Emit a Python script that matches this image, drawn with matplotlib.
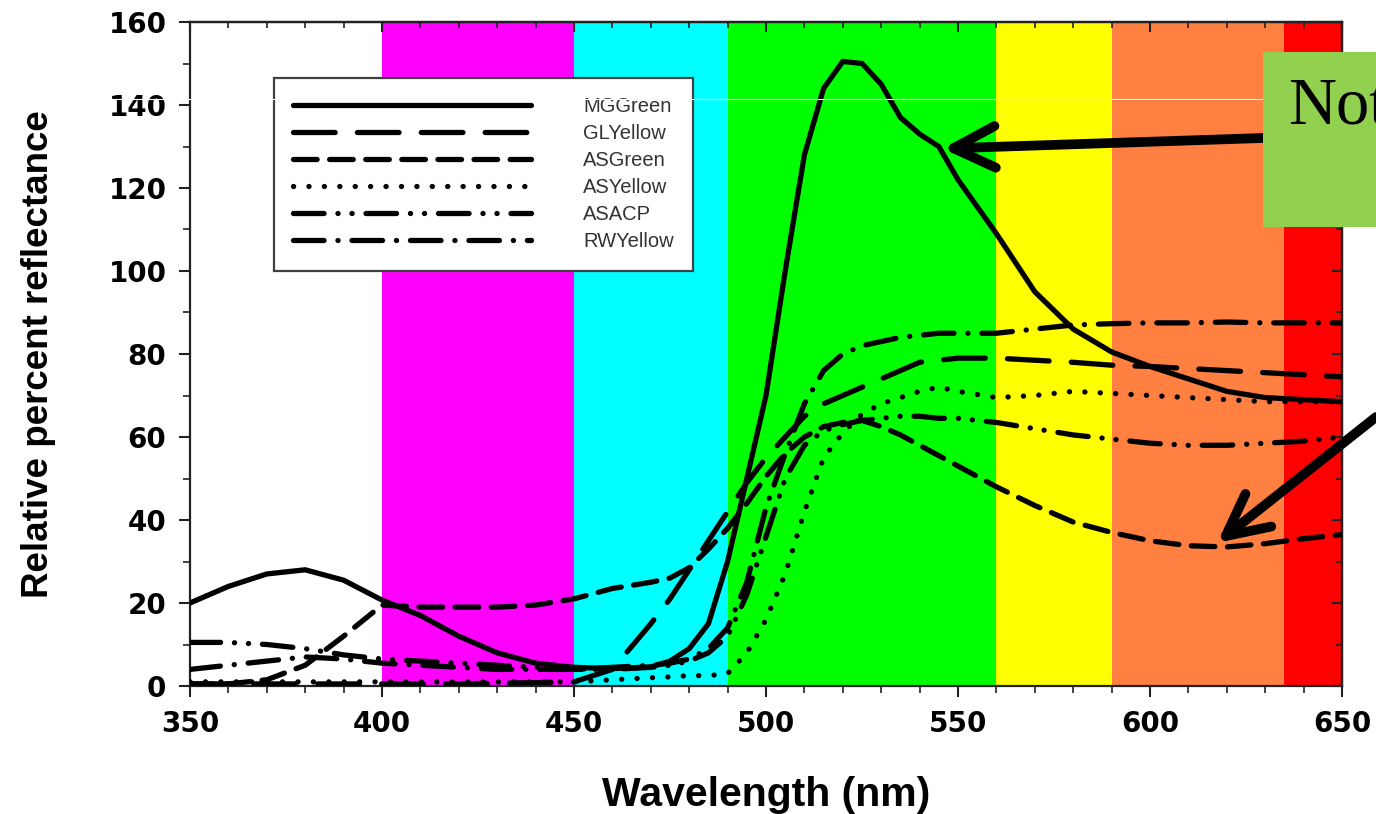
import matplotlib
matplotlib.use("Agg")
import matplotlib.pyplot as plt
from matplotlib.lines import Line2D
from matplotlib.patches import Rectangle
from matplotlib.ticker import MultipleLocator

plt.rcParams['lines.scale_dashes'] = False

# ---------------- data ----------------
wavelength = [350, 360, 370, 380, 390, 400, 410, 420, 430, 440, 450, 460, 470, 475,
              480, 485, 490, 495, 500, 505, 510, 515, 520, 525, 530, 535, 540, 545,
              550, 560, 570, 580, 590, 600, 610, 620, 630, 640, 650]

mg_green = [20, 24, 27, 28, 25.5, 20.7, 17, 12, 8, 5.5, 4.5, 4.2, 4.6, 6,
            9, 15, 30, 50, 70, 100, 128, 144, 150.5, 150, 145, 137, 133, 130,
            122, 109, 95, 86, 80.5, 77, 74, 71, 69.5, 69, 68.5]

gl_yellow = [0.5, 0.5, 0.5, 0.5, 0.5, 0.5, 0.5, 0.5, 0.7, 0.8, 1, 4, 15, 21,
             28, 35, 42, 49, 55, 60, 65, 68, 70, 72, 74, 76, 78, 78.5,
             79, 79, 78.5, 78, 77.3, 77, 76.5, 76, 75.5, 75, 74.5]

as_green = [0.5, 0.5, 1.5, 5, 12, 19.5, 19, 19, 19, 19.5, 21, 23.5, 25, 26,
            28.5, 33, 38, 44, 50.5, 56, 60, 62.5, 63.5, 64, 62.5, 60.5, 58, 55.5,
            53, 48, 43.5, 39.5, 37, 35, 33.8, 33.5, 34.3, 35.5, 36.5]

as_yellow = [1, 1, 1, 1, 1, 1, 1, 1, 1, 1, 1, 1.5, 2, 2.2,
             2.5, 2.5, 3, 8, 16, 27, 42, 55, 61, 65.5, 68, 69.5, 71, 72,
             71, 69.5, 70, 71, 70.5, 70, 69.5, 69, 68.5, 68.5, 68.5]

as_acp = [10.5, 10.5, 10, 9, 7.5, 6.5, 6, 5.5, 5, 4.5, 4, 4, 4.5, 5,
          6, 8, 12, 22, 36, 50, 58, 61.5, 63, 64, 64.5, 65, 65, 64.5,
          64.5, 63.5, 62, 60.5, 59.5, 58.5, 58, 58, 58.5, 59, 60]

rw_yellow = [4, 5, 6, 7, 6.5, 5.5, 5, 4.5, 4, 4, 4, 4.5, 5, 5.5,
             6.5, 9, 14, 25, 43, 56, 68, 76, 80, 82, 83, 84, 84.5, 85,
             85, 85, 86, 87, 87.3, 87.5, 87.5, 87.7, 87.5, 87.5, 87.5]

series_names = ["MGGreen", "GLYellow", "ASGreen", "ASYellow", "ASACP", "RWYellow"]
series_values = [mg_green, gl_yellow, as_green, as_yellow, as_acp, rw_yellow]
series_dashes = ['-', (0, (30, 16)), (0, (17, 9)), (0, (0.1, 11)),
                 (0, (22, 10, 0.1, 10, 0.1, 10)), (0, (22, 10, 0.1, 10))]

band_starts = [400, 450, 490, 560, 590, 635]
band_ends = [450, 490, 560, 590, 635, 650]
band_colors = ['#FF00FF', '#00FFFF', '#00FF00', '#FFFF00', '#FF8040', '#FF0000']

x_ticks = [350, 400, 450, 500, 550, 600, 650]
y_ticks = [0, 20, 40, 60, 80, 100, 120, 140, 160]

# ---------------- figure ----------------
fig = plt.figure(figsize=(13.76, 8.14), dpi=100)
ax = fig.add_axes([190/1376, 1-686/814, (1342-190)/1376, (686-22)/814])

for s, e, c in zip(band_starts, band_ends, band_colors):
    ax.axvspan(s, e, color=c, zorder=0, lw=0)

handles = []
for name, vals, ls in zip(series_names, series_values, series_dashes):
    ln, = ax.plot(wavelength, vals, color='black', lw=3.8, linestyle=ls,
                  dash_capstyle='round', solid_capstyle='round', solid_joinstyle='round',
                  label=name, zorder=3)
    handles.append(ln)

ax.set_xlim(350, 650)
ax.set_ylim(0, 160)
ax.set_xticks(x_ticks)
ax.set_yticks(y_ticks)
ax.xaxis.set_minor_locator(MultipleLocator(10))
ax.yaxis.set_minor_locator(MultipleLocator(10))

tick_font = dict(family='DejaVu Sans', weight='bold', size=20)
ax.set_xticklabels([str(v) for v in x_ticks], fontdict=tick_font)
ax.set_yticklabels([str(v) for v in y_ticks], fontdict=tick_font)
ax.tick_params(which='major', direction='out', length=8, width=1.5, pad=9, color='#222222')
ax.tick_params(which='minor', direction='out', length=5, width=1.2, color='#222222')

for sp in ax.spines.values():
    sp.set_linewidth(1.6)
    sp.set_color('#222222')

# inward ticks on the top and right
secx = ax.secondary_xaxis('top')
secx.set_xticks(x_ticks)
secx.xaxis.set_minor_locator(MultipleLocator(10))
secx.tick_params(which='major', direction='in', length=7, width=1.5, labeltop=False, color='#222222')
secx.tick_params(which='minor', direction='in', length=4, width=1.2, color='#222222')
secx.spines['top'].set_linewidth(1.6)
secy = ax.secondary_yaxis('right')
secy.set_yticks(y_ticks)
secy.yaxis.set_minor_locator(MultipleLocator(10))
secy.tick_params(which='major', direction='in', length=7, width=1.5, labelright=False, color='#222222')
secy.tick_params(which='minor', direction='in', length=4, width=1.2, color='#222222')
secy.spines['right'].set_linewidth(1.6)

ax.set_xlabel("Wavelength (nm)", fontsize=29.5, fontweight='bold', family='Liberation Sans', labelpad=28)
ax.set_ylabel("Relative percent reflectance", fontsize=26.5, fontweight='bold', family='Liberation Sans', labelpad=38)

leg = ax.legend(handles=handles, loc='upper left',
                bbox_to_anchor=((274-190)/1152, (686-78)/664),
                borderaxespad=0, frameon=True, fancybox=False,
                prop=dict(family='Liberation Sans', size=14.5),
                handlelength=11.8, handletextpad=2.6, labelspacing=0.4,
                borderpad=0.95)
leg.get_frame().set_edgecolor('#404040')
leg.get_frame().set_linewidth(1.6)
leg.get_frame().set_alpha(1)
for t in leg.get_texts():
    t.set_color('#333333')

# arrows pointing to features
ax.annotate('', xy=(546, 129.5), xycoords='data',
            xytext=(1263/1376, 1-138/814), textcoords='figure fraction',
            arrowprops=dict(arrowstyle='->,head_length=1.0,head_width=0.5', lw=7,
                            color='black', shrinkA=0, shrinkB=0, mutation_scale=30,
                            capstyle='round', joinstyle='round'),
            annotation_clip=False, zorder=6)
ax.annotate('', xy=(617.5, 34.5), xycoords='data',
            xytext=(1.0, 1-417/814), textcoords='figure fraction',
            arrowprops=dict(arrowstyle='->,head_length=1.0,head_width=0.5', lw=7,
                            color='black', shrinkA=0, shrinkB=0, mutation_scale=30,
                            capstyle='round', joinstyle='round'),
            annotation_clip=False, zorder=6)

# thin white scan line
fig.add_artist(Line2D([0, 1263/1376], [1-99/814, 1-99/814], transform=fig.transFigure,
                      color='white', lw=0.8, zorder=10))

# green callout box
fig.add_artist(Rectangle((1263/1376, 1-227/814), (1376-1263)/1376 + 0.01, 175/814,
                         transform=fig.transFigure, facecolor='#92D050',
                         edgecolor='none', zorder=11))
fig.text(1288/1376, 1-124/814, "Not", family='Liberation Serif', fontsize=48,
         color='black', ha='left', va='baseline', zorder=12)

fig.savefig("out.png", dpi=100)
